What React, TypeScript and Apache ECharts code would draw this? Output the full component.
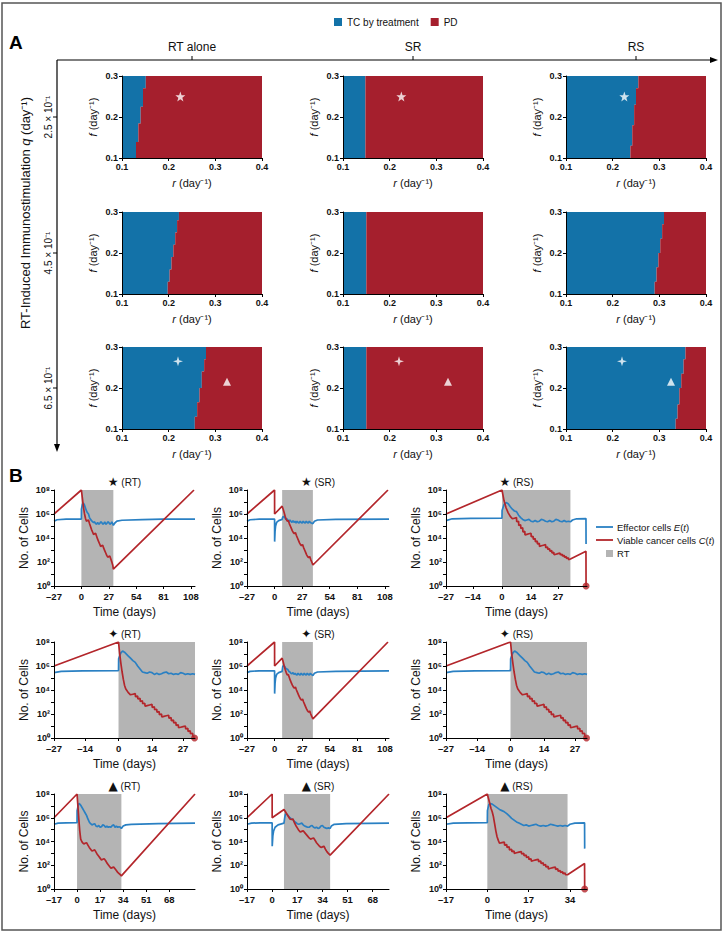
import React, { useEffect, useRef } from "react";
import * as echarts from "echarts";

const FONT = "'Liberation Sans Narrow', 'Arial Narrow', 'Liberation Sans', Arial, sans-serif";

const TC_BLUE = "#1372a8";
const PD_RED = "#a51f2d";
const E_BLUE = "#2a80c3";
const C_RED = "#b3262b";
const RT_GRAY = "#b4b4b4";

// ---------------- Panel A ----------------
const treatments = ["RT alone", "SR", "RS"];
const qLabels = ["2.5 × 10⁻¹", "4.5 × 10⁻¹", "6.5 × 10⁻¹"];

// TC / PD boundary, [r, f] from f = 0.3 down to f = 0.1
const bndRT25 = [[0.151, 0.3], [0.151, 0.27], [0.145, 0.27], [0.145, 0.225], [0.14, 0.225], [0.14, 0.184], [0.135, 0.184], [0.135, 0.139], [0.13, 0.139], [0.13, 0.1]];
const bndSR25 = [[0.148, 0.3], [0.148, 0.1]];
const bndRS25 = [[0.255, 0.3], [0.255, 0.27], [0.25, 0.27], [0.25, 0.23], [0.246, 0.23], [0.246, 0.18], [0.242, 0.18], [0.242, 0.13], [0.238, 0.13], [0.238, 0.1]];
const bndRT45 = [[0.222, 0.3], [0.222, 0.28], [0.218, 0.28], [0.218, 0.25], [0.214, 0.25], [0.214, 0.22], [0.21, 0.22], [0.21, 0.19], [0.206, 0.19], [0.206, 0.16], [0.202, 0.16], [0.202, 0.13], [0.198, 0.13], [0.198, 0.1]];
const bndSR45 = [[0.15, 0.3], [0.15, 0.1]];
const bndRS45 = [[0.31, 0.3], [0.31, 0.27], [0.306, 0.27], [0.306, 0.235], [0.302, 0.235], [0.302, 0.2], [0.298, 0.2], [0.298, 0.165], [0.294, 0.165], [0.294, 0.13], [0.29, 0.13], [0.29, 0.1]];
const bndRT65 = [[0.28, 0.3], [0.28, 0.27], [0.276, 0.27], [0.276, 0.24], [0.271, 0.24], [0.271, 0.2], [0.266, 0.2], [0.266, 0.165], [0.261, 0.165], [0.261, 0.13], [0.256, 0.13], [0.256, 0.1]];
const bndSR65 = [[0.15, 0.3], [0.15, 0.1]];
const bndRS65 = [[0.356, 0.3], [0.356, 0.27], [0.352, 0.27], [0.352, 0.235], [0.347, 0.235], [0.347, 0.2], [0.343, 0.2], [0.343, 0.16], [0.339, 0.16], [0.339, 0.125], [0.335, 0.125], [0.335, 0.1]];
const boundaries = [bndRT25, bndSR25, bndRS25, bndRT45, bndSR45, bndRS45, bndRT65, bndSR65, bndRS65];

const starRF = [0.225, 0.25];
const sparkRF = [0.22, 0.265];
const triRF = [0.325, 0.215];
const tcLabelRF = [0.121, 0.266];
const pdLabelRF = [0.278, 0.172];

// ---------------- Panel B ----------------
// flat lists: time (days), log10(cells), ...
const cStarRT = [-27, 6.0, 0, 8.0, 1, 7.3, 2, 6.6, 3, 6.05, 4, 5.65, 5, 5.4, 6, 5.45, 7, 5.5, 8, 5.2, 9, 4.95, 10, 4.7, 11, 4.5, 12, 4.3, 13, 4.35, 14, 4.4, 15, 4.15, 16, 3.9, 17, 3.7, 18, 3.5, 19, 3.3, 20, 3.35, 21, 3.4, 22, 3.15, 23, 2.95, 24, 2.75, 25, 2.55, 26, 2.4, 27, 2.45, 28, 2.5, 29, 2.25, 30, 2.0, 31, 1.7, 31.5, 1.4, 111, 8.0];
const eStarRT = [-27, 5.4, -24, 5.52, -15, 5.57, 0, 5.58, 0.05, 6.4, 1, 6.8, 2, 6.9, 3, 6.75, 4, 6.5, 5, 6.25, 6, 6.1, 7, 6.0, 8, 5.7, 9, 5.55, 10, 5.45, 11, 5.35, 12, 5.3, 13, 5.35, 14, 5.2, 15, 5.15, 16, 5.3, 17, 5.15, 18, 5.2, 19, 5.35, 20, 5.3, 21, 5.15, 22, 5.2, 23, 5.35, 24, 5.15, 25, 5.2, 26, 5.35, 27, 5.3, 28, 5.15, 29, 5.2, 30, 5.35, 31, 5.15, 31.5, 5.05, 33, 5.25, 35, 5.4, 40, 5.48, 60, 5.53, 80, 5.58, 112, 5.58];
const cStarSR = [-27, 6.0, 0, 8.0, 0.02, 6.0, 7.4, 6.65, 8.4, 6.4, 9.4, 6.1, 10.4, 5.8, 11.4, 5.55, 12.4, 5.4, 13.4, 5.45, 14.4, 5.2, 15.4, 5.0, 16.4, 4.8, 17.4, 4.6, 18.4, 4.45, 19.4, 4.35, 20.4, 4.45, 21.4, 4.2, 22.4, 4.0, 23.4, 3.8, 24.4, 3.6, 25.4, 3.45, 26.4, 3.35, 27.4, 3.45, 28.4, 3.2, 29.4, 3.0, 30.4, 2.8, 31.4, 2.6, 32.4, 2.45, 33.4, 2.35, 34.4, 2.45, 35.4, 2.2, 36.4, 2.0, 37.5, 1.75, 111, 8.0];
const eStarSR = [-27, 5.4, -24, 5.52, -15, 5.57, 0, 5.58, 0.05, 3.7, 0.5, 4.6, 1, 5.0, 2, 5.3, 4, 5.45, 7.4, 5.55, 8, 5.75, 9, 5.8, 10, 5.7, 11, 5.55, 12, 5.6, 13, 5.5, 14, 5.35, 15, 5.5, 16, 5.4, 17, 5.3, 18, 5.45, 19, 5.3, 20, 5.4, 21, 5.25, 22, 5.4, 23, 5.3, 24, 5.25, 25, 5.4, 26, 5.3, 27, 5.25, 28, 5.4, 29, 5.3, 30, 5.25, 31, 5.4, 32, 5.3, 33, 5.25, 34, 5.4, 35, 5.3, 36, 5.25, 37.5, 5.2, 39, 5.4, 42, 5.5, 60, 5.55, 112, 5.58];
const cStarRS = [-27, 6.0, 0, 8.0, 1, 7.1, 2, 6.5, 3, 6.1, 4, 5.8, 5, 5.6, 6, 5.65, 7, 5.7, 7.1, 5.35, 8, 5.4, 8.1, 5.05, 9, 5.1, 9.1, 4.8, 10, 4.85, 10.1, 4.5, 11, 4.55, 11.1, 4.25, 12, 4.3, 13, 4.35, 14, 4.4, 14.1, 4.1, 15, 4.15, 15.1, 3.9, 16, 3.95, 16.1, 3.7, 17, 3.75, 17.1, 3.5, 18, 3.55, 18.1, 3.3, 19, 3.35, 20, 3.4, 21, 3.45, 21.1, 3.2, 22, 3.25, 22.1, 3.05, 23, 3.1, 23.1, 2.9, 24, 2.95, 24.1, 2.75, 25, 2.8, 25.1, 2.6, 26, 2.65, 27, 2.7, 28, 2.75, 28.1, 2.6, 29, 2.65, 29.1, 2.5, 30, 2.55, 30.1, 2.4, 31, 2.45, 31.1, 2.3, 32, 2.35, 32.1, 2.2, 33, 2.25, 40.5, 2.9, 40.55, 0];
const eStarRS = [-27, 5.45, -24, 5.6, -15, 5.64, 0, 5.65, 0.05, 6.3, 1, 6.8, 2, 6.95, 3, 6.85, 4, 6.6, 5, 6.4, 6, 6.25, 7, 6.2, 8, 5.9, 9, 5.7, 10, 5.55, 11, 5.45, 12, 5.5, 13, 5.55, 14, 5.4, 15, 5.35, 16, 5.45, 17, 5.35, 18, 5.4, 19, 5.55, 20, 5.5, 21, 5.4, 22, 5.35, 23, 5.45, 24, 5.35, 25, 5.4, 26, 5.55, 27, 5.5, 28, 5.4, 29, 5.35, 30, 5.45, 31, 5.35, 32, 5.4, 33, 5.35, 34, 5.5, 36, 5.6, 40.5, 5.62, 40.55, 3.5];
const cDiaRT = [-27, 6.0, 0, 8.0, 0.5, 7.0, 1, 6.2, 1.5, 5.5, 2, 4.9, 2.5, 4.4, 3, 4.1, 4, 3.8, 5, 3.6, 6, 3.65, 7, 3.7, 7.1, 3.45, 8, 3.5, 8.1, 3.25, 9, 3.3, 9.1, 3.05, 10, 3.1, 10.1, 2.85, 11, 2.9, 11.1, 2.65, 12, 2.7, 13, 2.75, 14, 2.8, 14.1, 2.55, 15, 2.6, 15.1, 2.35, 16, 2.4, 16.1, 2.15, 17, 2.2, 17.1, 1.95, 18, 2.0, 18.1, 1.75, 19, 1.8, 20, 1.85, 21, 1.9, 21.1, 1.65, 22, 1.7, 22.1, 1.45, 23, 1.5, 23.1, 1.25, 24, 1.3, 24.1, 1.05, 25, 1.1, 25.1, 0.85, 26, 0.9, 27, 0.95, 28, 1.0, 28.1, 0.75, 29, 0.8, 29.1, 0.55, 30, 0.6, 30.1, 0.35, 31, 0.4, 31.1, 0.15, 31.8, 0];
const eDiaRT = [-27, 5.45, -24, 5.55, -15, 5.6, 0, 5.62, 0.05, 6.6, 1, 7.1, 1.7, 7.25, 2.5, 7.15, 3, 7.05, 4, 6.85, 5, 6.65, 6, 6.45, 7, 6.3, 8, 6.0, 9, 5.75, 10, 5.5, 11, 5.45, 12, 5.4, 13, 5.5, 14, 5.45, 15, 5.3, 16, 5.4, 17, 5.3, 18, 5.35, 19, 5.45, 20, 5.5, 21, 5.35, 22, 5.4, 23, 5.3, 24, 5.35, 25, 5.3, 26, 5.45, 27, 5.4, 28, 5.3, 29, 5.35, 30, 5.3, 31, 5.35, 32, 5.3];
const cDiaSR = [-27, 6.0, 0, 8.0, 0.02, 6.0, 7.4, 6.65, 8.4, 6.35, 9.4, 6.0, 10.4, 5.7, 11.4, 5.45, 12.4, 5.25, 13.4, 5.3, 14.4, 5.05, 15.4, 4.8, 16.4, 4.6, 17.4, 4.4, 18.4, 4.25, 19.4, 4.15, 20.4, 4.25, 21.4, 4.0, 22.4, 3.8, 23.4, 3.6, 24.4, 3.4, 25.4, 3.25, 26.4, 3.15, 27.4, 3.25, 28.4, 3.0, 29.4, 2.8, 30.4, 2.6, 31.4, 2.4, 32.4, 2.25, 33.4, 2.15, 34.4, 2.25, 35.4, 2.0, 36.4, 1.8, 37.5, 1.6, 111, 8.0];
const eDiaSR = [-27, 5.45, -24, 5.55, -15, 5.6, 0, 5.6, 0.05, 3.7, 0.5, 4.6, 1, 5.0, 2, 5.3, 4, 5.45, 7.4, 5.55, 8, 5.95, 9, 6.05, 10, 5.95, 11, 5.8, 12, 5.75, 13, 5.7, 14, 5.55, 15, 5.5, 16, 5.4, 17, 5.35, 18, 5.45, 19, 5.3, 20, 5.4, 21, 5.3, 22, 5.25, 23, 5.4, 24, 5.3, 25, 5.25, 26, 5.4, 27, 5.3, 28, 5.25, 29, 5.4, 30, 5.3, 31, 5.25, 32, 5.4, 33, 5.3, 34, 5.25, 35, 5.4, 36, 5.3, 37.5, 5.2, 39, 5.4, 42, 5.5, 60, 5.55, 112, 5.6];
const cTriRT = [-17, 6.0, 0, 8.0, 0.5, 7.2, 1, 6.4, 1.5, 5.6, 2, 4.9, 2.7, 4.2, 3.5, 4.0, 4, 3.9, 5, 3.8, 6, 3.85, 7, 3.9, 8, 3.7, 9, 3.5, 10, 3.35, 11, 3.2, 12, 3.25, 13, 3.3, 14, 3.1, 15, 2.9, 16, 2.75, 17, 2.6, 18, 2.45, 19, 2.5, 20, 2.55, 21, 2.4, 22, 2.2, 23, 2.05, 24, 1.9, 25, 1.75, 26, 1.8, 27, 1.85, 28, 1.7, 29, 1.55, 30, 1.4, 31, 1.3, 32, 1.2, 32.7, 1.1, 87, 8.0];
const eTriRT = [-17, 5.45, -14, 5.55, -8, 5.57, 0, 5.58, 0.05, 6.6, 1, 7.1, 1.5, 7.2, 2, 7.15, 3, 7.0, 4, 6.8, 5, 6.6, 6, 6.4, 7, 6.2, 8, 5.9, 9, 5.65, 10, 5.5, 11, 5.4, 12, 5.45, 13, 5.5, 14, 5.3, 15, 5.25, 16, 5.35, 17, 5.2, 18, 5.25, 19, 5.4, 20, 5.35, 21, 5.2, 22, 5.3, 23, 5.2, 24, 5.25, 25, 5.2, 26, 5.35, 27, 5.4, 28, 5.2, 29, 5.3, 30, 5.2, 31, 5.25, 32, 5.2, 32.7, 5.1, 34, 5.3, 36, 5.4, 40, 5.45, 60, 5.5, 87, 5.55];
const cTriSR = [-17, 6.0, 0, 8.0, 0.02, 6.0, 8, 6.7, 9, 6.5, 10, 6.3, 11, 6.1, 12, 5.9, 13, 5.85, 14, 5.9, 15, 5.6, 16, 5.35, 17, 5.15, 18, 4.95, 19, 4.8, 20, 4.85, 21, 4.9, 22, 4.75, 23, 4.6, 24, 4.45, 25, 4.3, 26, 4.2, 27, 4.25, 28, 4.3, 29, 4.1, 30, 3.9, 31, 3.75, 32, 3.6, 33, 3.5, 34, 3.55, 35, 3.6, 36, 3.35, 37, 3.15, 38, 3.0, 39.2, 2.85, 79, 8.0];
const eTriSR = [-17, 5.45, -14, 5.55, -8, 5.57, 0, 5.58, 0.05, 3.6, 0.5, 4.5, 1, 4.9, 2, 5.2, 4, 5.4, 8, 5.55, 8.5, 6.0, 9, 6.3, 10, 6.3, 11, 6.15, 12, 6.0, 13, 5.9, 14, 5.85, 15, 5.7, 16, 5.6, 17, 5.5, 18, 5.45, 19, 5.5, 20, 5.55, 21, 5.4, 22, 5.3, 23, 5.25, 24, 5.2, 25, 5.2, 26, 5.3, 27, 5.35, 28, 5.2, 29, 5.15, 30, 5.2, 31, 5.1, 32, 5.15, 33, 5.3, 34, 5.35, 35, 5.2, 36, 5.15, 37, 5.1, 38, 5.15, 39.2, 5.1, 40, 5.3, 42, 5.45, 50, 5.5, 79, 5.55];
const cTriRS = [-17, 6.0, 0, 8.0, 0.5, 7.6, 1, 7.2, 1.5, 6.8, 2, 6.5, 2.5, 6.1, 3, 5.5, 3.5, 4.9, 4, 4.4, 4.6, 4.05, 5, 3.85, 6, 3.9, 7, 3.95, 7.1, 3.7, 8, 3.75, 8.1, 3.5, 9, 3.55, 9.1, 3.3, 10, 3.35, 10.1, 3.15, 11, 3.2, 11.1, 3.0, 12, 3.05, 13, 3.1, 14, 3.15, 14.1, 2.95, 15, 3.0, 15.1, 2.8, 16, 2.85, 16.1, 2.65, 17, 2.7, 17.1, 2.5, 18, 2.55, 18.1, 2.35, 19, 2.4, 20, 2.45, 21, 2.5, 21.1, 2.3, 22, 2.35, 22.1, 2.15, 23, 2.2, 23.1, 2.0, 24, 2.05, 24.1, 1.85, 25, 1.9, 25.1, 1.7, 26, 1.75, 27, 1.8, 28, 1.85, 28.1, 1.65, 29, 1.7, 29.1, 1.5, 30, 1.55, 30.1, 1.4, 31, 1.45, 31.1, 1.3, 32, 1.35, 32.1, 1.2, 33, 1.2, 40, 2.15, 40.05, 0];
const eTriRS = [-17, 5.45, -14, 5.55, -8, 5.57, 0, 5.58, 0.05, 6.6, 0.6, 7.1, 1.2, 7.2, 2, 7.15, 3, 7.0, 4, 6.85, 5, 6.7, 6, 6.6, 7, 6.5, 8, 6.35, 9, 6.15, 10, 5.95, 11, 5.8, 12, 5.65, 13, 5.55, 14, 5.45, 15, 5.35, 16, 5.4, 17, 5.3, 18, 5.35, 19, 5.4, 20, 5.45, 21, 5.35, 22, 5.3, 23, 5.35, 24, 5.3, 25, 5.35, 26, 5.45, 27, 5.4, 28, 5.35, 29, 5.3, 30, 5.35, 31, 5.3, 32, 5.35, 33, 5.3, 34, 5.45, 36, 5.55, 40, 5.57, 40.05, 3.4];

const cancerSeries = [cStarRT, cStarSR, cStarRS, cDiaRT, cDiaSR, cDiaRT, cTriRT, cTriSR, cTriRS];
const effectorSeries = [eStarRT, eStarSR, eStarRS, eDiaRT, eDiaSR, eDiaRT, eTriRT, eTriSR, eTriRS];

const bMarks = ["★", "✦", "▲"];
const bModes = ["RT", "SR", "RS"];
const bRanges = [[-27, 112], [-27, 112], [-27, 41], [-27, 32], [-27, 112], [-27, 32], [-17, 87], [-17, 79], [-17, 41]];
const ticksLong27 = [-27, 0, 27, 54, 81, 108];
const ticksShort27 = [-27, -14, 0, 14, 27];
const ticksLong17 = [-17, 0, 17, 34, 51, 68];
const ticksShort17 = [-17, 0, 17, 34];
const bTicks = [ticksLong27, ticksLong27, ticksShort27, ticksShort27, ticksLong27, ticksShort27, ticksLong17, ticksLong17, ticksShort17];
const rtWindows = [[0, 31.5], [7.4, 37.5], [0, 33], [0, 32], [7.4, 37.5], [0, 32], [0, 32.7], [8, 39.2], [0, 33]];
const eradicationTimes = [null, null, 40.55, 31.8, null, 31.8, null, null, 40.05];
const cellLabelTicks = [1, 1e2, 1e4, 1e6, 1e8];
const cellDecades = [1, 10, 1e2, 1e3, 1e4, 1e5, 1e6, 1e7, 1e8];

const SUP: Record<string, string> = { "0": "⁰", "1": "¹", "2": "²", "3": "³", "4": "⁴", "5": "⁵", "6": "⁶", "7": "⁷", "8": "⁸", "9": "⁹" };

const toPts = (flat: number[]) => {
  const out: number[][] = [];
  for (let i = 0; i < flat.length; i += 2) out.push([flat[i], Math.pow(10, flat[i + 1])]);
  return out;
};

const STAR5 = "path://M0,-10L2.35,-3.24L9.51,-3.09L3.8,1.24L5.88,8.09L0,4L-5.88,8.09L-3.8,1.24L-9.51,-3.09L-2.35,-3.24Z";
const STAR4 = "path://M0,-10L2.3,-2.3L10,0L2.3,2.3L0,10L-2.3,2.3L-10,0L-2.3,-2.3Z";

function buildOption() {
  const grid: any[] = [];
  const xAxis: any[] = [];
  const yAxis: any[] = [];
  const series: any[] = [];
  const graphic: any[] = [];

  const aColX = [122, 343, 566];
  const aRowY = [76, 212, 347];
  const bColX = [54, 247, 446];
  const bColW = [141, 142, 141];
  const bRowY = [490, 642, 794];
  const bRowH = [96, 96, 95];

  const axisTextA = { fontSize: 9, fontWeight: "bold", color: "#111", fontFamily: FONT };

  // ----- Panel A grids -----
  for (let row = 0; row < 3; row++) {
    for (let col = 0; col < 3; col++) {
      const gi = row * 3 + col;
      grid.push({ left: aColX[col], top: aRowY[row], width: 140, height: 82, outerBoundsMode: "none" });
      xAxis.push({
        gridIndex: gi, type: "value", min: 0.1, max: 0.4, interval: 0.1, z: 10,
        axisLine: { onZero: false, lineStyle: { color: "#000", width: 1 } },
        axisTick: { length: 3, lineStyle: { color: "#000" } },
        axisLabel: { ...axisTextA, margin: 4, formatter: (v: number) => v.toFixed(1) },
        splitLine: { show: false },
        name: "{i|r} (day⁻¹)", nameLocation: "middle", nameGap: 19,
        nameTextStyle: { fontSize: 11, color: "#111", fontFamily: FONT, rich: { i: { fontStyle: "italic", fontSize: 11, fontFamily: FONT } } },
      });
      yAxis.push({
        gridIndex: gi, type: "value", min: 0.1, max: 0.3, interval: 0.1, z: 10,
        axisLine: { onZero: false, lineStyle: { color: "#000", width: 1 } },
        axisTick: { length: 3, lineStyle: { color: "#000" } },
        axisLabel: { ...axisTextA, margin: 4, formatter: (v: number) => v.toFixed(1) },
        splitLine: { show: false },
        name: "{i|f} (day⁻¹)", nameLocation: "middle", nameGap: 24,
        nameTextStyle: { fontSize: 11, color: "#111", fontFamily: FONT, rich: { i: { fontStyle: "italic", fontSize: 11, fontFamily: FONT } } },
      });
      const bnd = boundaries[gi];
      const bluePoly = [[0.1, 0.3], ...bnd, [0.1, 0.1]];
      const redPoly = [[0.4, 0.3], ...bnd, [0.4, 0.1]];
      const mkPoly = (name: string, poly: number[][], color: string) => ({
        type: "custom", name, xAxisIndex: gi, yAxisIndex: gi, data: [[0.25, 0.2]], silent: true, z: 1,
        itemStyle: { color },
        renderItem: (_p: any, api: any) => ({
          type: "polygon",
          shape: { points: poly.map((pt) => api.coord(pt)) },
          style: { fill: color },
        }),
      });
      series.push(mkPoly("TC by treatment", bluePoly, TC_BLUE));
      series.push(mkPoly("PD", redPoly, PD_RED));

      const marks: any[] = [];
      if (row === 0) marks.push({ value: starRF, symbol: STAR5, symbolSize: 10 });
      if (row === 2) {
        marks.push({ value: sparkRF, symbol: STAR4, symbolSize: 10 });
        marks.push({ value: triRF, symbol: "triangle", symbolSize: 8 });
      }
      if (marks.length) {
        series.push({
          type: "scatter", xAxisIndex: gi, yAxisIndex: gi, data: marks, silent: true, z: 4,
          itemStyle: { color: "#ffffff" },
        });
      }
      if (gi === 0) {
        series.push({
          type: "scatter", xAxisIndex: gi, yAxisIndex: gi, silent: true, z: 4, symbolSize: 1,
          itemStyle: { opacity: 0 },
          data: [
            { value: tcLabelRF, name: "TC", label: { color: "#e6eef5" } },
            { value: pdLabelRF, name: "PD", label: { color: "#f5c9c9" } },
          ],
          label: { show: true, position: "inside", formatter: "{b}", fontSize: 11, fontFamily: FONT },
        });
      }
    }
  }

  // ----- Panel B grids -----
  for (let row = 0; row < 3; row++) {
    for (let col = 0; col < 3; col++) {
      const pi = row * 3 + col;
      const gi = 9 + pi;
      grid.push({ left: bColX[col], top: bRowY[row], width: bColW[col], height: bRowH[row], outerBoundsMode: "none" });
      const ticks = bTicks[pi];
      xAxis.push({
        gridIndex: gi, type: "value", min: bRanges[pi][0], max: bRanges[pi][1], z: 10,
        axisLine: { onZero: false, lineStyle: { color: "#000", width: 1 } },
        axisTick: { show: true, customValues: ticks, length: 3, lineStyle: { color: "#000" } },
        axisLabel: {
          customValues: ticks, fontSize: 9.5, fontWeight: "bold", color: "#111", fontFamily: FONT, margin: 5,
          formatter: (v: number) => (v < 0 ? "–" + Math.abs(v) : String(v)),
        },
        splitLine: { show: false },
        name: "Time (days)", nameLocation: "middle", nameGap: 20,
        nameTextStyle: { fontSize: 12, color: "#111", fontFamily: FONT },
      });
      yAxis.push({
        gridIndex: gi, type: "log", logBase: 10, min: 1, max: 1e8, z: 10,
        axisLine: { onZero: false, lineStyle: { color: "#000", width: 1 } },
        axisTick: { show: true, customValues: cellDecades, length: 3, lineStyle: { color: "#000" } },
        axisLabel: {
          customValues: cellLabelTicks, fontSize: 9, fontWeight: "bold", color: "#111", fontFamily: FONT, margin: 4,
          formatter: (v: number) => "10" + String(Math.round(Math.log10(v))).split("").map((d) => SUP[d]).join(""),
        },
        splitLine: { show: false },
        minorTick: { show: false },
        name: "No. of Cells", nameLocation: "middle", nameGap: 24,
        nameTextStyle: { fontSize: 12, color: "#111", fontFamily: FONT },
      });
      series.push({
        type: "line", name: "Effector cells E(t)", xAxisIndex: gi, yAxisIndex: gi,
        data: toPts(effectorSeries[pi]), symbol: "none", showSymbol: false, silent: true, z: 2,
        lineStyle: { color: E_BLUE, width: 1.7 }, itemStyle: { color: E_BLUE },
      });
      series.push({
        type: "line", name: "Viable cancer cells C(t)", xAxisIndex: gi, yAxisIndex: gi,
        data: toPts(cancerSeries[pi]), symbol: "none", showSymbol: false, silent: true, z: 3,
        lineStyle: { color: C_RED, width: 1.7 }, itemStyle: { color: C_RED },
        markArea: {
          silent: true,
          itemStyle: { color: RT_GRAY },
          data: [[{ xAxis: rtWindows[pi][0] }, { xAxis: rtWindows[pi][1] }]],
        },
      });
      const tEnd = eradicationTimes[pi];
      if (tEnd !== null) {
        series.push({
          type: "scatter", xAxisIndex: gi, yAxisIndex: gi, silent: true, z: 5, clip: false,
          data: [[tEnd, 1]], symbolSize: 7, itemStyle: { color: C_RED },
        });
      }
      // panel title
      graphic.push({
        type: "text", x: bColX[col] + bColW[col] / 2, y: bRowY[row] - 8, silent: true,
        style: {
          text: "{m|" + bMarks[row] + "} (" + bModes[col] + ")",
          fontSize: 10, fontFamily: FONT, fill: "#111", align: "center", verticalAlign: "middle",
          rich: { m: { fontSize: 12, fontFamily: "DejaVu Sans", fill: "#111" } },
        },
      });
    }
  }

  // ----- decorations -----
  graphic.push({ type: "rect", silent: true, shape: { x: 2, y: 3, width: 719, height: 927 }, style: { fill: "none", stroke: "#555", lineWidth: 1.5 } });
  graphic.push({ type: "text", x: 9, y: 42, silent: true, style: { text: "A", fontSize: 19, fontWeight: "bold", fontFamily: "Liberation Sans, Arial, sans-serif", fill: "#000", verticalAlign: "middle" } });
  graphic.push({ type: "text", x: 9, y: 475, silent: true, style: { text: "B", fontSize: 19, fontWeight: "bold", fontFamily: "Liberation Sans, Arial, sans-serif", fill: "#000", verticalAlign: "middle" } });

  const titleX = [192, 413, 636];
  treatments.forEach((t, i) => {
    graphic.push({ type: "text", x: titleX[i], y: 47, silent: true, style: { text: t, fontSize: 12, fontFamily: FONT, fill: "#111", align: "center", verticalAlign: "middle" } });
    graphic.push({ type: "line", silent: true, shape: { x1: titleX[i], y1: 56, x2: titleX[i], y2: 60 }, style: { stroke: "#000", lineWidth: 1 } });
  });
  // horizontal axis with arrow
  graphic.push({ type: "line", silent: true, shape: { x1: 57, y1: 60, x2: 712, y2: 60 }, style: { stroke: "#000", lineWidth: 1.2 } });
  graphic.push({ type: "polygon", silent: true, shape: { points: [[718, 60], [710, 57], [710, 63]] }, style: { fill: "#000" } });
  // vertical axis with arrow
  graphic.push({ type: "line", silent: true, shape: { x1: 57, y1: 60, x2: 57, y2: 446 }, style: { stroke: "#000", lineWidth: 1.2 } });
  graphic.push({ type: "polygon", silent: true, shape: { points: [[57, 452], [54, 444], [60, 444]] }, style: { fill: "#000" } });
  const qY = [117, 253, 388];
  qLabels.forEach((q, i) => {
    graphic.push({ type: "line", silent: true, shape: { x1: 53, y1: qY[i], x2: 57, y2: qY[i] }, style: { stroke: "#000", lineWidth: 1 } });
    graphic.push({ type: "text", x: 48, y: qY[i], rotation: Math.PI / 2, silent: true, style: { text: q, fontSize: 10, fontFamily: FONT, fill: "#111", align: "center", verticalAlign: "middle" } });
  });
  graphic.push({
    type: "text", x: 25, y: 213, rotation: Math.PI / 2, silent: true,
    style: {
      text: "{n|RT-Induced Immunostimulation }{i|q}{n| (day⁻¹)}",
      fontSize: 13, fontFamily: FONT, fill: "#111", align: "center", verticalAlign: "middle",
      rich: { n: { fontSize: 13, fontFamily: FONT, fill: "#111" }, i: { fontSize: 13, fontStyle: "italic", fontFamily: FONT, fill: "#111" } },
    },
  });

  // Panel B legend
  const legX = 596;
  graphic.push({ type: "line", silent: true, shape: { x1: legX, y1: 527, x2: legX + 17, y2: 527 }, style: { stroke: E_BLUE, lineWidth: 1.8 } });
  graphic.push({ type: "line", silent: true, shape: { x1: legX, y1: 540, x2: legX + 17, y2: 540 }, style: { stroke: C_RED, lineWidth: 1.8 } });
  graphic.push({ type: "rect", silent: true, shape: { x: legX + 10, y: 550, width: 7, height: 7 }, style: { fill: RT_GRAY } });
  const legRich = { n: { fontSize: 9.5, fontFamily: FONT, fill: "#111" }, i: { fontSize: 9.5, fontStyle: "italic", fontFamily: FONT, fill: "#111" } };
  graphic.push({ type: "text", x: 617, y: 527, silent: true, style: { text: "{n|Effector cells }{i|E}{n|(}{i|t}{n|)}", verticalAlign: "middle", rich: legRich } });
  graphic.push({ type: "text", x: 617, y: 540, silent: true, style: { text: "{n|Viable cancer cells }{i|C}{n|(}{i|t}{n|)}", verticalAlign: "middle", rich: legRich } });
  graphic.push({ type: "text", x: 617, y: 553.5, silent: true, style: { text: "{n|RT}", verticalAlign: "middle", rich: legRich } });

  return {
    animation: false,
    backgroundColor: "#ffffff",
    textStyle: { fontFamily: FONT },
    legend: [
      {
        data: [{ name: "TC by treatment", icon: "rect" }, { name: "PD", icon: "rect" }],
        left: 329, top: 12, itemWidth: 8, itemHeight: 8, itemGap: 12, selectedMode: false,
        textStyle: { fontSize: 10, color: "#111", fontFamily: FONT },
      },
    ],
    grid, xAxis, yAxis, series, graphic,
  };
}

export default function App() {
  const ref = useRef<HTMLDivElement>(null);
  useEffect(() => {
    const chart = echarts.init(ref.current!, null, { renderer: "svg" });
    chart.setOption(buildOption() as any);
    return () => chart.dispose();
  }, []);
  return <div ref={ref} style={{ position: "absolute", left: 0, top: 0, width: 726, height: 934, background: "#fff" }} />;
}
